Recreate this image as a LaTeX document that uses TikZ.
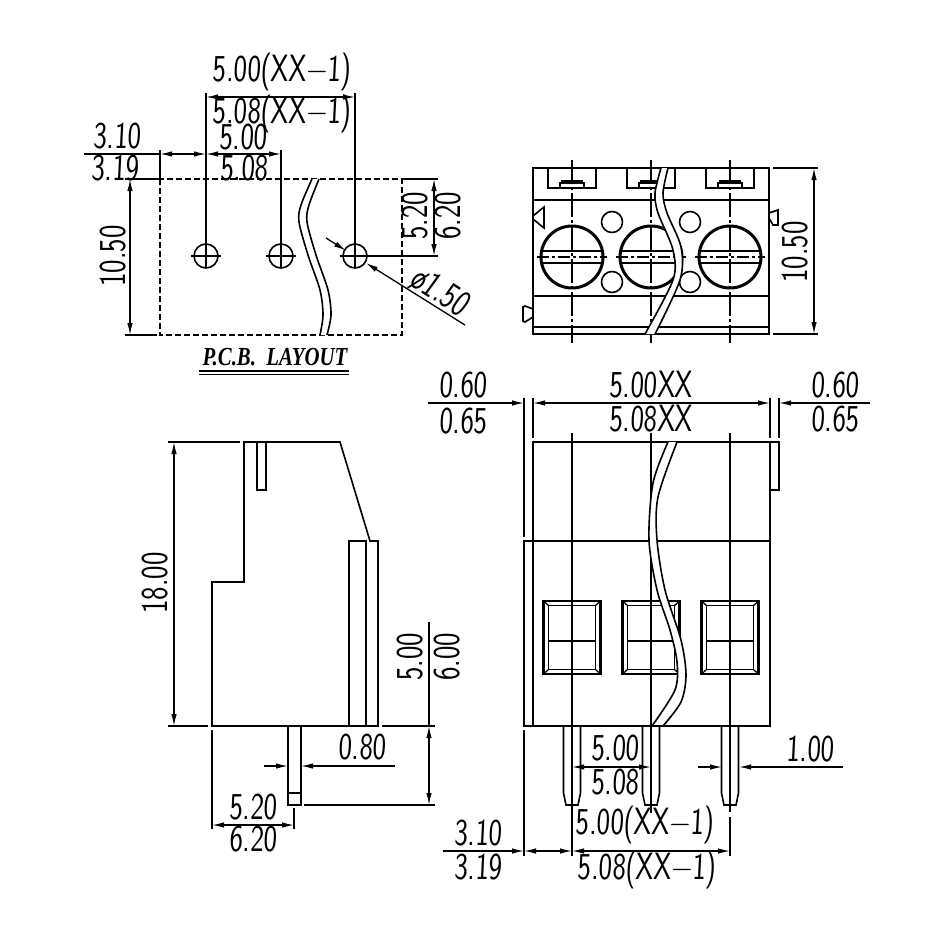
\documentclass[tikz,border=0pt]{standalone}
\usepackage{fontspec}
\usetikzlibrary{arrows.meta}
\newfontfamily\dimfont[FakeStretch=0.75,FakeSlant=0.05]{Latin Modern Sans}
\newfontfamily\vdimfont[FakeStretch=0.75]{Latin Modern Sans}
\newfontfamily\titlefont[FakeStretch=0.8]{Liberation Serif}
\newcommand{\breakcut}[2]{
  \fill[white] plot[smooth] coordinates {#1} -- plot[smooth] coordinates {#2} -- cycle;
  \draw[part] plot[smooth] coordinates {#1};
  \draw[part] plot[smooth] coordinates {#2};
}
\tikzset{
  part/.style={line width=1.6pt},
  thin line/.style={line width=1.3pt},
  dim/.style={line width=1.3pt,>={Latex[length=12pt,width=5.5pt]}},
  lbl/.style={font=\dimfont\fontsize{38}{38}\selectfont,inner sep=0pt},
  vlbl/.style={font=\vdimfont\fontsize{38}{38}\selectfont,inner sep=0pt,rotate=90},
  axis/.style={line width=1.3pt,dash pattern=on 24pt off 3pt on 3pt off 3pt},
  slotaxis/.style={line width=1.3pt,dash pattern=on 12pt off 3pt on 3pt off 3pt},
  title/.style={font=\titlefont\bfseries\itshape\fontsize{26}{26}\selectfont,inner sep=0pt}
}
\begin{document}
\begin{tikzpicture}[x=1pt,y=-1pt]
  \useasboundingbox (0,0) rectangle (945,945);
  \fill[white] (0,0) rectangle (945,945);

  % pcb layout
  \draw[part,dash pattern=on 6pt off 3pt] (160,179) rectangle (402,335);
  \breakcut{(312,179) (301,205) (299,222) (308,255) (320,290) (323,315) (320,335)}
           {(327,335) (331,315) (328,290) (316,255) (307,222) (309,205) (319,179)}
  \foreach \x in {206,281,355} {
    \node[draw,circle,part,minimum size=24pt,inner sep=0pt] (hole\x) at (\x,256) {};
    \draw[thin line] (\x-15,256) -- (\x+15,256);
  }
  \draw[part] (206,93) -- (206,268);
  \draw[thin line] (281,150) -- (281,268);
  \draw[thin line] (355,93) -- (355,268);
  \draw[thin line] (160,150) -- (160,179);
  \draw[thin line] (125,179) -- (160,179);
  \draw[thin line] (125,335) -- (157,335);
  \draw[thin line] (402,179) -- (438,179);
  \draw[thin line] (370,256) -- (438,256);
  \draw[dim,<->] (206,97) -- (355,97);
  \draw[dim] (84,154) -- (160,154);
  \draw[dim,<->] (160,154) -- (206,154);
  \draw[dim,<->] (206,154) -- (281,154);
  \draw[dim,<->] (130,179) -- (130,335);
  \draw[dim,<->] (434,179) -- (434,256);
  \draw[dim,->] (326,238) -- (346,250.6);
  \draw[dim,->] (465,325) -- (366,263);
  \node[lbl] (pitcha) at (282,72) {5.00(XX−1)};
  \node[lbl] (pitchb) at (282,114) {5.08(XX−1)};
  \node[lbl] (offa) at (117,136) {3.10};
  \node[lbl] (offb) at (115,168) {3.19};
  \node[lbl] (stepa) at (243,137) {5.00};
  \node[lbl] (stepb) at (244,168) {5.08};
  \node[vlbl] (depth) at (113,256) {10.50};
  \node[vlbl] (rowa) at (415,216) {5.20};
  \node[vlbl] (rowb) at (448,216) {6.20};
  \node[lbl,rotate=-33] (drill) at (440,292) {ø1.50};
  \node[title] (pcb) at (275,357) {P.C.B.\ \ LAYOUT};
  \draw[part] (199,371) -- (349,371);
  \draw[part] (199,374.5) -- (349,374.5);

  % top view
  \draw[part] (533,168) rectangle (769,334);
  \draw[part] (533,200) -- (769,200);
  \draw[part] (533,296) -- (769,296);
  \draw[part] (533,327) -- (769,327);
  \foreach \x in {572,651,730} {
    \draw[part] (\x-24,168) -- (\x-24,188) -- (\x+24,188) -- (\x+24,168);
    \draw[part] (\x-12,188) -- (\x-12,183) -- (\x-10,183) -- (\x-10,181) -- (\x+10,181) -- (\x+10,183) -- (\x+12,183) -- (\x+12,188);
    \draw[part] (\x-12,183) -- (\x+12,183);
    \node[draw,circle,line width=3pt,minimum size=62pt,inner sep=0pt] (screw\x) at (\x,257) {};
    \draw[part] (\x-30,251) -- (\x+30,251);
    \draw[part] (\x-30,263) -- (\x+30,263);
    \draw[axis] (\x,160) -- (\x,343);
    \draw[slotaxis] (\x-35,257) -- (\x+35,257);
  }
  \foreach \x/\y in {612/222,612/282,690/222,690/282} {
    \node[draw,circle,part,minimum size=21pt,inner sep=0pt] (boss\x\y) at (\x,\y) {};
  }
  \draw[part] (533,216) -- (544,207) -- (544,228) -- (533,219);
  \draw[part] (533,309) -- (525,306) -- (523,307) -- (523,321) -- (525,322) -- (533,317);
  \draw[part] (769,213) -- (778,210) -- (778,225) -- (773,225) -- (769,218);
  \breakcut{(661,168) (655,193) (658,213) (673,250) (673,280) (645,334)}
           {(655,334) (680,280) (681,247) (667,213) (663,193) (668,168)}
  \draw[thin line] (773,168) -- (818,168);
  \draw[thin line] (773,334) -- (818,334);
  \draw[dim,<->] (814,168) -- (814,334);
  \node[vlbl] (height) at (795,252) {10.50};

  % side view
  \draw[part] (244,442) -- (244,582) -- (212,582) -- (212,726) -- (378,726) -- (378,541) -- (370,541) -- (340,442) -- cycle;
  \draw[part] (257,442) rectangle (266,490);
  \draw[part] (349,541) rectangle (366,726);
  \draw[part] (288,726) rectangle (301,805);
  \draw[part] (288,793) -- (301,793);
  \draw[thin line] (168,442) -- (240,442);
  \draw[thin line] (168,726) -- (208,726);
  \draw[thin line] (382,726) -- (435,726);
  \draw[thin line] (304,805) -- (435,805);
  \draw[thin line] (212,730) -- (212,829);
  \draw[thin line] (294,808) -- (294,829);
  \draw[dim,<->] (174,442) -- (174,726);
  \draw[thin line] (429,622) -- (429,726);
  \draw[dim,<->] (429,726) -- (429,805);
  \draw[dim,->] (264,766) -- (288,766);
  \draw[dim,->] (395,766) -- (301,766);
  \draw[dim,<->] (212,825) -- (294,825);
  \node[vlbl] (total) at (155,583) {18.00};
  \node[vlbl] (pina) at (410,657) {5.00};
  \node[vlbl] (pinb) at (447,657) {6.00};
  \node[lbl] (pinw) at (362,747) {0.80};
  \node[lbl] (posa) at (253,807) {5.20};
  \node[lbl] (posb) at (253,839) {6.20};

  % front view
  \draw[part] (533,442) rectangle (770,726);
  \draw[part] (524,541) rectangle (533,726);
  \draw[part] (533,541) -- (770,541);
  \draw[part] (770,442) -- (779,442) -- (779,490) -- (770,490);
  \foreach \x in {572,651,730} {
    \draw[line width=2.2pt] (\x-28.5,601) rectangle (\x+28.5,674);
    \draw[part] (\x-23.5,605.5) rectangle (\x+23.5,669.5);
    \draw[part] (\x-23.5,641) -- (\x+23.5,641);
    \draw[thin line] (\x-28.5,601) -- (\x-23.5,605.5);
    \draw[thin line] (\x+28.5,601) -- (\x+23.5,605.5);
    \draw[thin line] (\x-28.5,674) -- (\x-23.5,669.5);
    \draw[thin line] (\x+28.5,674) -- (\x+23.5,669.5);
    \draw[part] (\x-8.5,726) -- (\x-8.5,793) -- (\x-6,805) -- (\x+6,805) -- (\x+8.5,793) -- (\x+8.5,726);
  }
  \draw[thin line] (572,433) -- (572,856);
  \draw[thin line] (651,433) -- (651,813);
  \draw[thin line] (730,433) -- (730,812);
  \draw[thin line] (730,817) -- (730,856);
  \breakcut{(668,442) (653,483) (649,540) (657,590) (670,630) (677,662) (675,690) (652,726)}
           {(663,726) (681,702) (686,675) (681,640) (665,590) (657,540) (658,497) (677,442)}
  \draw[part] (533,726) -- (770,726);
  \draw[thin line] (524,398) -- (524,537);
  \draw[thin line] (533,398) -- (533,438);
  \draw[thin line] (770,398) -- (770,438);
  \draw[thin line] (779,398) -- (779,438);
  \draw[thin line] (524,730) -- (524,856);
  \draw[dim,->] (428,403) -- (524,403);
  \draw[dim,<->] (533,403) -- (770,403);
  \draw[dim,->] (870,403) -- (779,403);
  \draw[dim,->] (698,767) -- (722,767);
  \draw[dim,->] (843,767) -- (739,767);
  \draw[dim,<->] (572,767) -- (651,767);
  \draw[dim,<-] (524,851) -- (443,851);
  \draw[dim,<->] (524,851) -- (572,851);
  \draw[dim,<->] (572,851) -- (730,851);
  \node[lbl] (gapla) at (463,385) {0.60};
  \node[lbl] (gaplb) at (463,421) {0.65};
  \node[lbl] (widtha) at (651,385) {5.00XX};
  \node[lbl] (widthb) at (651,419) {5.08XX};
  \node[lbl] (gapra) at (835,385) {0.60};
  \node[lbl] (gaprb) at (835,419) {0.65};
  \node[lbl] (pitchc) at (615,748) {5.00};
  \node[lbl] (pitchd) at (615,782) {5.08};
  \node[lbl] (legw) at (810,749) {1.00};
  \node[lbl] (offc) at (478,833) {3.10};
  \node[lbl] (offd) at (478,867) {3.19};
  \node[lbl] (pitche) at (645,825) {5.00(XX−1)};
  \node[lbl] (pitchf) at (647,870) {5.08(XX−1)};
\end{tikzpicture}
\end{document}
